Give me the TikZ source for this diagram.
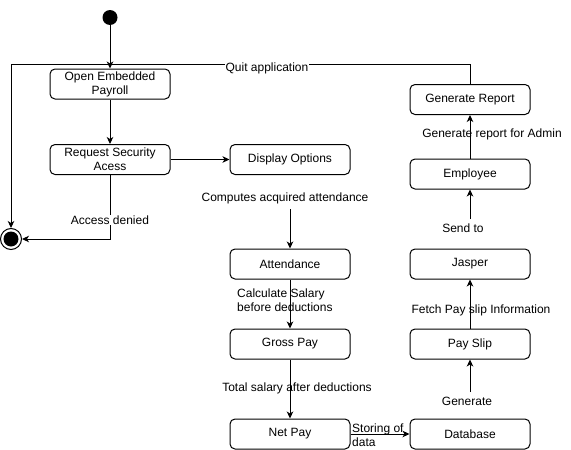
\documentclass[tikz,border=0pt]{standalone}
\usepackage{fontspec}
\setmainfont{Liberation Sans}
\usetikzlibrary{arrows.meta}
\begin{document}
\begin{tikzpicture}[x=1pt,y=-1pt,
  every node/.style={font=\fontsize{12}{14}\selectfont},
  state/.style={draw, rounded corners=5pt, minimum width=120pt, minimum height=30pt, inner sep=0pt, align=center, line width=1pt},
  lbl/.style={inner sep=1pt, align=center},
  lbll/.style={inner sep=1pt, align=left, anchor=west},
  flow/.style={draw, line width=1pt, -{Stealth[length=7pt,width=6.5pt,inset=2pt]}},
  ]
\useasboundingbox (0,0) rectangle (571,450);
% initial and final states
\node[circle, fill=black, minimum size=15pt, inner sep=0pt] (start) at (110,17.5) {};
\node[circle, draw, line width=1pt, fill=white, minimum size=21pt, inner sep=0pt] (end) at (11,239) {};
\node[circle, fill=black, minimum size=15pt, inner sep=0pt] (endin) at (end) {};
% states
\node[state] (open) at (110,84) {Open Embedded\\Payroll};
\node[state] (req) at (110,159.5) {Request Security\\Acess};
\node[state] (disp) at (290,159.5) {Display Options};
\node[state] (att) at (290,264) {Attendance};
\node[state] (gross) at (290,344) {Gross Pay};
\node[state] (net) at (290,434) {Net Pay};
\node[state] (db) at (470,434) {Database};
\node[state] (slip) at (470,344) {Pay Slip};
\node[state] (jasper) at (470,264) {Jasper};
\node[state] (emp) at (470,174) {Employee};
\node[state] (rep) at (470,99.5) {Generate Report};
% connectors
\coordinate (qc) at (11,64);
\coordinate (c1) at (290,209);
\coordinate (g1) at (470,392);
\coordinate (s1) at (470,219);
\draw[flow] (start) -- (open);
\draw[flow] (open) -- (req);
\draw[flow] (req) -- (disp);
\draw[flow] (rep.north) |- (qc) -- (end);
\draw[flow] (req) |- (end);
\draw[flow] (c1) -- (att);
\draw[flow] (att) -- (gross);
\draw[flow] (gross) -- (net);
\draw[flow] (net) -- (db);
\draw[flow] (g1) -- (slip);
\draw[flow] (slip) -- (jasper);
\draw[flow] (s1) -- (emp);
\draw[flow] (emp) -- (rep);
% labels
\node[lbl, fill=white] (lquit) at (267,68) {Quit application};
\node[lbl, fill=white] (lden) at (110,220) {Access denied};
\node[lbl] (lcomp) at (285,198) {Computes acquired attendance};
\node[lbll] (lcalc) at (236,300.5) {Calculate Salary\\before deductions};
\node[lbl] (ltot) at (297,388) {Total salary after deductions};
\node[lbll] (lstor) at (351,435.5) {Storing of\\data};
\node[lbl] (lgen) at (467,401) {Generate};
\node[lbl] (lfetch) at (481,310) {Fetch Pay slip Information};
\node[lbl] (lsend) at (463,228) {Send to};
\node[lbl] (lrep) at (492,134) {Generate report for Admin};
\end{tikzpicture}
\end{document}
